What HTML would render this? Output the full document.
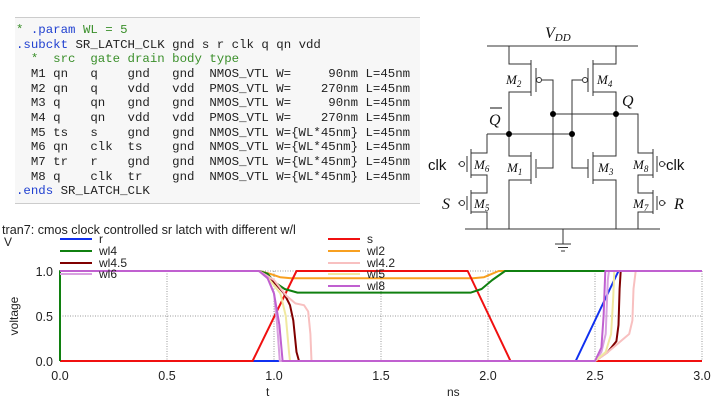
<!DOCTYPE html>
<html><head><meta charset="utf-8">
<style>
body{margin:0;width:720px;height:405px;overflow:hidden;background:#fff;position:relative;font-family:"Liberation Sans",sans-serif}
#code{position:absolute;left:15px;top:17px;width:405px;height:187px;background:#f7f7f7;border-top:1px solid #ccc;border-bottom:1px solid #ccc;box-sizing:border-box}
#code pre{margin:0;position:absolute;left:1px;top:5px;font-family:"Liberation Mono",monospace;font-size:12.4px;line-height:14.67px;color:#222}
.c{color:#3a8f2a}.k{color:#2040d0}
svg{position:absolute;left:0;top:0}
</style></head><body>
<div id="code"><pre><span class="c">*</span> <span class="k">.param</span> <span class="c">WL = 5</span>
<span class="k">.subckt</span> SR_LATCH_CLK gnd s r clk q qn vdd
<span class="c">  *  src  gate drain body type</span>
  M1 qn   q    gnd   gnd  NMOS_VTL W=     90nm L=45nm
  M2 qn   q    vdd   vdd  PMOS_VTL W=    270nm L=45nm
  M3 q    qn   gnd   gnd  NMOS_VTL W=     90nm L=45nm
  M4 q    qn   vdd   vdd  PMOS_VTL W=    270nm L=45nm
  M5 ts   s    gnd   gnd  NMOS_VTL W={WL*45nm} L=45nm
  M6 qn   clk  ts    gnd  NMOS_VTL W={WL*45nm} L=45nm
  M7 tr   r    gnd   gnd  NMOS_VTL W={WL*45nm} L=45nm
  M8 q    clk  tr    gnd  NMOS_VTL W={WL*45nm} L=45nm
<span class="k">.ends</span> SR_LATCH_CLK</pre></div>

<svg width="720" height="405" fill="none" stroke="#333" stroke-width="1">
<g font-family="Liberation Serif,serif" font-style="italic" font-size="13" fill="#111" stroke="none">
<text x="545" y="38" font-size="16">V<tspan font-size="11" dy="3">DD</tspan></text>
<text x="506" y="84">M<tspan font-size="9" dy="3">2</tspan></text>
<text x="597" y="84">M<tspan font-size="9" dy="3">4</tspan></text>
<text x="507" y="172">M<tspan font-size="9" dy="3">1</tspan></text>
<text x="598" y="172">M<tspan font-size="9" dy="3">3</tspan></text>
<text x="474" y="169">M<tspan font-size="9" dy="3">6</tspan></text>
<text x="474" y="208">M<tspan font-size="9" dy="3">5</tspan></text>
<text x="633" y="169">M<tspan font-size="9" dy="3">8</tspan></text>
<text x="633" y="208">M<tspan font-size="9" dy="3">7</tspan></text>
<text x="622" y="106" font-size="16">Q</text>
<text x="489" y="125" font-size="16">Q</text>
<text x="442" y="209" font-size="16">S</text>
<text x="674" y="209" font-size="16">R</text>
<text x="428" y="170" font-style="normal" font-family="Liberation Sans,sans-serif" font-size="15">clk</text>
<text x="666" y="170" font-style="normal" font-family="Liberation Sans,sans-serif" font-size="15">clk</text>
</g>
<line x1="490" y1="108" x2="502" y2="108" stroke="#111"/>
<path d="M487 46H638M465 229H660M563 229V244M555 244H571M558 247.5H568M561 251H565"/>
<path d="M509 46V64H531M531 92H509V134M531 60V96M536 68V92M542 80H553V168H537M536 159V178"/>
<circle cx="539" cy="80" r="2.5" fill="#fff"/>
<path d="M616 46V64H593M593 92H616V156H593M593 60V96M588 68V92M582 80H572V168H588M588 159V178M593 152V184M593 180H616V229"/>
<circle cx="585" cy="80" r="2.5" fill="#fff"/>
<path d="M509 134V156H531M531 152V184M531 180H509V229"/>
<path d="M553 114H638V153H653M487 134H572M487 134V153H471M471 149V178M471 175H487V193H471M471 190V214M471 212H487V229"/>
<path d="M467 156V172M467 196V210M465 164H458M465 203H458"/>
<circle cx="462" cy="164" r="2.5" fill="#fff"/><circle cx="462" cy="203" r="2.5" fill="#fff"/>
<path d="M653 149V178M653 175H638V193H653M653 190V214M653 212H638V229M657 156V172M657 196V210M659 164H666M659 203H666"/>
<circle cx="662" cy="164" r="2.5" fill="#fff"/><circle cx="662" cy="203" r="2.5" fill="#fff"/>
<g fill="#000" stroke="none"><circle cx="553" cy="114" r="3"/><circle cx="616" cy="114" r="3"/><circle cx="509" cy="134" r="3"/><circle cx="572" cy="134" r="3"/></g>
</svg>

<svg id="chart" width="720" height="405"></svg>
<script>
const xTicks=[0,0.5,1.0,1.5,2.0,2.5,3.0];
const xTickLabels=["0.0","0.5","1.0","1.5","2.0","2.5","3.0"];
const yTicks=[0,0.5,1.0];
const yTickLabels=["0.0","0.5","1.0"];
const seriesNames=["r","s","wl4","wl2","wl4.5","wl4.2","wl6","wl5","wl8"];
const rT=[0,2.41,2.61,3];const rV=[0,0,1,1];
const sT=[0,0.9,1.105,1.905,2.105,3];const sV=[0,0,1,1,0,0];
const wl4T=[0,0,0.93,0.97,1.0,1.05,1.11,1.92,1.97,2.02,2.08,3];const wl4V=[0,1,1,0.97,0.88,0.8,0.76,0.76,0.8,0.9,1,1];
const wl2T=[0,0.93,0.98,1.03,1.08,1.93,1.98,2.02,2.05,3];const wl2V=[1,1,0.97,0.93,0.92,0.92,0.93,0.97,1,1];
const wl45T=[0,0.93,0.98,1.047,1.075,1.09,1.105,1.117,2.5,2.56,2.6,2.61,2.615,2.62,3];const wl45V=[1,1,0.93,0.75,0.62,0.45,0.1,0,0,0.1,0.22,0.4,0.8,1,1];
const wl42T=[0,0.93,1.0,1.06,1.1,1.14,1.16,1.17,1.175,2.5,2.55,2.6,2.66,2.675,2.68,2.69,3];const wl42V=[1,1,0.9,0.72,0.64,0.62,0.55,0.3,0,0,0.08,0.18,0.3,0.45,0.8,1,1];
const wl6T=[0,0.93,0.97,1.0,1.015,1.027,2.5,2.53,2.55,2.56,2.565,3];const wl6V=[1,1,0.93,0.75,0.4,0,0,0.1,0.3,0.9,1,1];
const wl5T=[0,0.93,0.98,1.03,1.055,1.07,1.075,2.5,2.55,2.575,2.585,2.59,3];const wl5V=[1,1,0.9,0.75,0.5,0.1,0,0,0.1,0.3,0.7,1,1];
const wl8T=[0,0.93,0.97,1.0,1.025,1.04,2.5,2.53,2.54,2.548,3];const wl8V=[1,1,0.92,0.75,0.4,0,0,0.15,0.5,1,1];
const seriesT=[rT,sT,wl4T,wl2T,wl45T,wl42T,wl6T,wl5T,wl8T];
const seriesV=[rV,sV,wl4V,wl2V,wl45V,wl42V,wl6V,wl5V,wl8V];
const drawOrder=[3,0,1,2,4,5,6,7,8];
const colors=["#1030f0","#f01010","#108010","#f8a020","#800000","#f8c0c0","#d8a0e0","#f0e8a0","#c060d0"];
const legendX=[60,328,60,328,60,328,60,328,328];
const legendY=[239,239,251,251,263,263,274,274,286];

const X0=60,KX=214,Y0=361,KY=90;
const xs=t=>X0+KX*t, ys=v=>Y0-KY*v;
const svg=document.getElementById('chart');
const NS="http://www.w3.org/2000/svg";
function mk(tag,attrs,txt){const e=document.createElementNS(NS,tag);for(const k in attrs)e.setAttribute(k,attrs[k]);if(txt!==undefined)e.textContent=txt;svg.appendChild(e);return e;}
let e;
e=mk('text',{x:2,y:234,'font-size':12.6,fill:'#222'},'tran7: cmos clock controlled sr latch with different w/l');


e=mk('text',{x:4,y:246,'font-size':12,fill:'#222'},'V');


xTicks.forEach((t,i)=>{
 if(t>0){e=mk('line',{x1:xs(t),y1:ys(1),x2:xs(t),y2:ys(0),stroke:'#999','stroke-dasharray':'1,1.5'});
 
 }
 e=mk('text',{x:xs(t),y:380,'font-size':12.5,'text-anchor':'middle',fill:'#222'},xTickLabels[i]);
 
 
});
yTicks.forEach((v,i)=>{
 if(v>0){e=mk('line',{x1:X0,y1:ys(v),x2:xs(3),y2:ys(v),stroke:'#999','stroke-dasharray':'1,1.5'});
 
 }
 e=mk('text',{x:53,y:ys(v)+5,'font-size':12.5,'text-anchor':'end',fill:'#222'},yTickLabels[i]);
 
 
});
e=mk('line',{x1:X0,y1:ys(1),x2:X0,y2:ys(0),stroke:'#000'});


e=mk('text',{x:266,y:396,'font-size':12,fill:'#222'},'t');


e=mk('text',{x:447,y:396,'font-size':12,fill:'#222'},'ns');


e=mk('text',{x:0,y:0,'font-size':12,fill:'#222','text-anchor':'middle',transform:'translate(18,316) rotate(-90)'},'voltage');


drawOrder.forEach(i=>{
 const n=seriesNames[i];
 const T=seriesT[i],V=seriesV[i];
 const d=T.map((t,j)=>(j?'L':'M')+xs(t).toFixed(1)+' '+ys(V[j]).toFixed(1)).join('');
 e=mk('path',{d:d,fill:'none',stroke:colors[i],'stroke-width':2,'stroke-linejoin':'round'});
 
 
});
seriesNames.forEach((n,i)=>{
 e=mk('line',{x1:legendX[i],y1:legendY[i],x2:legendX[i]+32,y2:legendY[i],stroke:colors[i],'stroke-width':2});
 
 
 e=mk('text',{x:legendX[i]+39,y:legendY[i]+4,'font-size':12,fill:'#222'},n);
 
 
});
</script>
</body></html>
